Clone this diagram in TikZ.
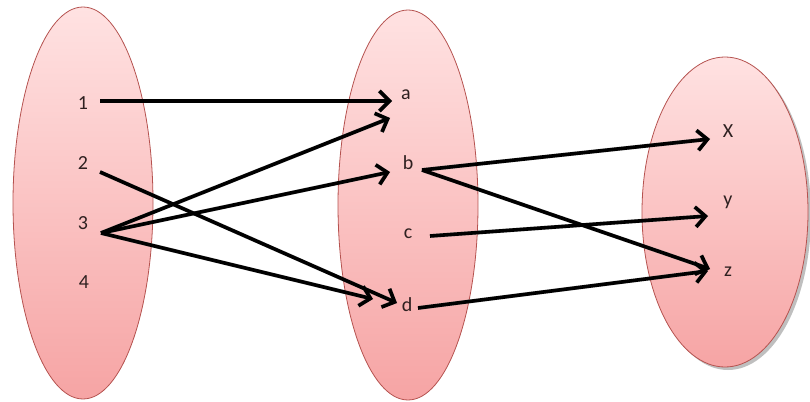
\documentclass[tikz,border=0pt]{standalone}
\usepackage{fontspec}
\setmainfont{Carlito}
\usetikzlibrary{arrows.meta}
\definecolor{pinktop}{HTML}{FFE2E2}
\definecolor{pinkbot}{HTML}{F6A4A4}
\definecolor{rim}{HTML}{B5524F}
\definecolor{labelc}{HTML}{2E2020}
\tikzset{
  setbox/.style={top color=pinktop, bottom color=pinkbot, draw=rim, line width=0.8pt},
  lbl/.style={font=\fontsize{20}{20}\selectfont, text=labelc, inner sep=0pt},
  arr/.style={line width=3.6pt, black, -{Straight Barb[length=10pt,width=20pt,line width=3.6pt]}},
  shad/.style={line width=4pt, black!45, opacity=0.5, -{Straight Barb[length=10pt,width=20pt,line width=4pt]}}
}
\begin{document}
\begin{tikzpicture}[x=1pt,y=-1pt]
\useasboundingbox (0,0) rectangle (810,401);
% sets
\fill[black!25] (728,215) ellipse [x radius=83, y radius=155];
\path[setbox] (83,203) ellipse [x radius=70, y radius=196];
\path[setbox] (408,205) ellipse [x radius=70, y radius=195];
\path[setbox] (725,212) ellipse [x radius=83, y radius=155];
% labels
\node[lbl] (n1) at (83,103) {1};
\node[lbl] (n2) at (83,163) {2};
\node[lbl] (n3) at (83,223) {3};
\node[lbl] (n4) at (84,282) {4};
\node[lbl] (a) at (406,95) {a};
\node[lbl] (b) at (408,163) {b};
\node[lbl] (c) at (408,234) {c};
\node[lbl] (d) at (407,305) {d};
\node[lbl] (x) at (728,131) {X};
\node[lbl] (y) at (728,202) {y};
\node[lbl] (z) at (728,272) {z};
% connector endpoints
\coordinate (s1) at (100,101);
\coordinate (s2) at (100,172);
\coordinate (s3) at (101,233);
\coordinate (sb) at (422,170);
\coordinate (sc) at (430,236);
\coordinate (sd) at (418,308);
\coordinate (ta1) at (392,101);
\coordinate (ta3) at (390,118);
\coordinate (tb) at (390,172);
\coordinate (td3) at (373,299);
\coordinate (td2) at (397,303);
\coordinate (tx) at (710,139);
\coordinate (tz1) at (710,269);
\coordinate (ty) at (708,216);
\coordinate (tz2) at (708,271);
% shadows
\begin{scope}[shift={(1.5,2.5)}]
\foreach \p/\q in {s1/ta1, s3/ta3, s3/tb, s3/td3, s2/td2, sb/tx, sb/tz1, sc/ty, sd/tz2}
  \draw[shad] (\p) -- (\q);
\end{scope}
% connectors
\draw[arr] (s1) -- (ta1);
\draw[arr] (s3) -- (ta3);
\draw[arr] (s3) -- (tb);
\draw[arr] (s3) -- (td3);
\draw[arr] (s2) -- (td2);
\draw[arr] (sb) -- (tx);
\draw[arr] (sb) -- (tz1);
\draw[arr] (sc) -- (ty);
\draw[arr] (sd) -- (tz2);
\end{tikzpicture}
\end{document}
